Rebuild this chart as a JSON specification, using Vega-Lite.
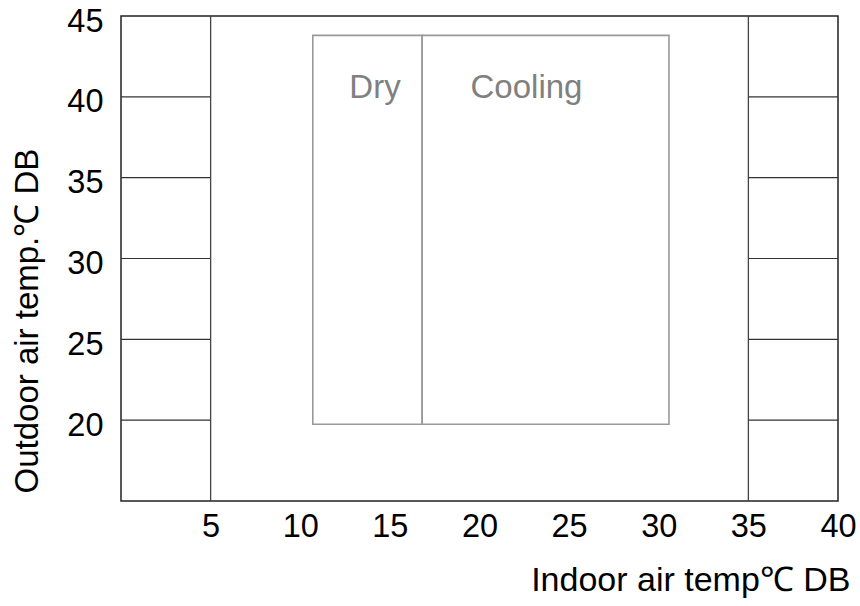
{
  "$schema": "https://vega.github.io/schema/vega-lite/v6.json",
  "width": 717,
  "height": 485,
  "autosize": {"type": "none"},
  "padding": {"left": 121, "top": 16, "right": 22, "bottom": 105},
  "background": "white",
  "config": {
    "view": {"stroke": "#222", "strokeWidth": 1.5},
    "font": "Liberation Sans",
    "axis": {
      "grid": false, "ticks": false, "tickSize": 0, "domain": false,
      "labelFont": "Liberation Sans", "labelFontSize": 32.5, "labelColor": "#000",
      "titleFont": "Liberation Sans", "titleFontSize": 34, "titleFontWeight": "normal", "titleColor": "#000"
    }
  },
  "datasets": {
    "hlines": [
      {"x1": 0, "x2": 5, "y": 20}, {"x1": 0, "x2": 5, "y": 25}, {"x1": 0, "x2": 5, "y": 30},
      {"x1": 0, "x2": 5, "y": 35}, {"x1": 0, "x2": 5, "y": 40},
      {"x1": 35, "x2": 40, "y": 20}, {"x1": 35, "x2": 40, "y": 25}, {"x1": 35, "x2": 40, "y": 30},
      {"x1": 35, "x2": 40, "y": 35}, {"x1": 35, "x2": 40, "y": 40}
    ],
    "vlines": [{"x": 5, "y1": 15, "y2": 45}, {"x": 35, "y1": 15, "y2": 45}],
    "zones": [
      {"mode": "Dry", "x1": 10.7, "x2": 16.8, "y1": 19.75, "y2": 43.8, "lx": 14.17, "ly": 40.55},
      {"mode": "Cooling", "x1": 16.8, "x2": 30.57, "y1": 19.75, "y2": 43.8, "lx": 22.62, "ly": 40.55}
    ]
  },
  "layer": [
    {
      "data": {"name": "hlines"},
      "mark": {"type": "rule", "color": "#333", "strokeWidth": 1.2},
      "encoding": {
        "x": {"field": "x1", "type": "quantitative",
              "scale": {"domain": [0, 40], "nice": false, "zero": false},
              "axis": {"values": [5, 10, 15, 20, 25, 30, 35, 40], "labelPadding": 9, "labelFlush": false,
                       "title": "Indoor air temp℃ DB", "titleAlign": "right", "titleAnchor": null,
                       "titleX": 729, "titleY": 89, "titleBaseline": "alphabetic"}},
        "x2": {"field": "x2"},
        "y": {"field": "y", "type": "quantitative",
              "scale": {"domain": [15, 45], "nice": false, "zero": false},
              "axis": {"values": [20, 25, 30, 35, 40, 45], "labelPadding": 18, "labelOffset": 5, "labelFlush": false,
                       "title": "Outdoor air temp.℃ DB", "titleAngle": 270, "titleAlign": "left",
                       "titleFontSize": 33,
                       "titleBaseline": "middle", "titleX": -94, "titleY": 477}}
      }
    },
    {
      "data": {"name": "vlines"},
      "mark": {"type": "rule", "color": "#444", "strokeWidth": 1.3},
      "encoding": {
        "x": {"field": "x", "type": "quantitative"},
        "y": {"field": "y1", "type": "quantitative"},
        "y2": {"field": "y2"}
      }
    },
    {
      "data": {"name": "zones"},
      "mark": {"type": "rect", "fill": null, "fillOpacity": 0, "stroke": "#999", "strokeWidth": 1.6},
      "encoding": {
        "x": {"field": "x1", "type": "quantitative"},
        "x2": {"field": "x2"},
        "y": {"field": "y1", "type": "quantitative"},
        "y2": {"field": "y2"}
      }
    },
    {
      "data": {"name": "zones"},
      "mark": {"type": "text", "font": "Liberation Sans", "fontSize": 33, "color": "#808080", "baseline": "middle", "align": "center"},
      "encoding": {
        "x": {"field": "lx", "type": "quantitative"},
        "y": {"field": "ly", "type": "quantitative"},
        "text": {"field": "mode"}
      }
    }
  ]
}
